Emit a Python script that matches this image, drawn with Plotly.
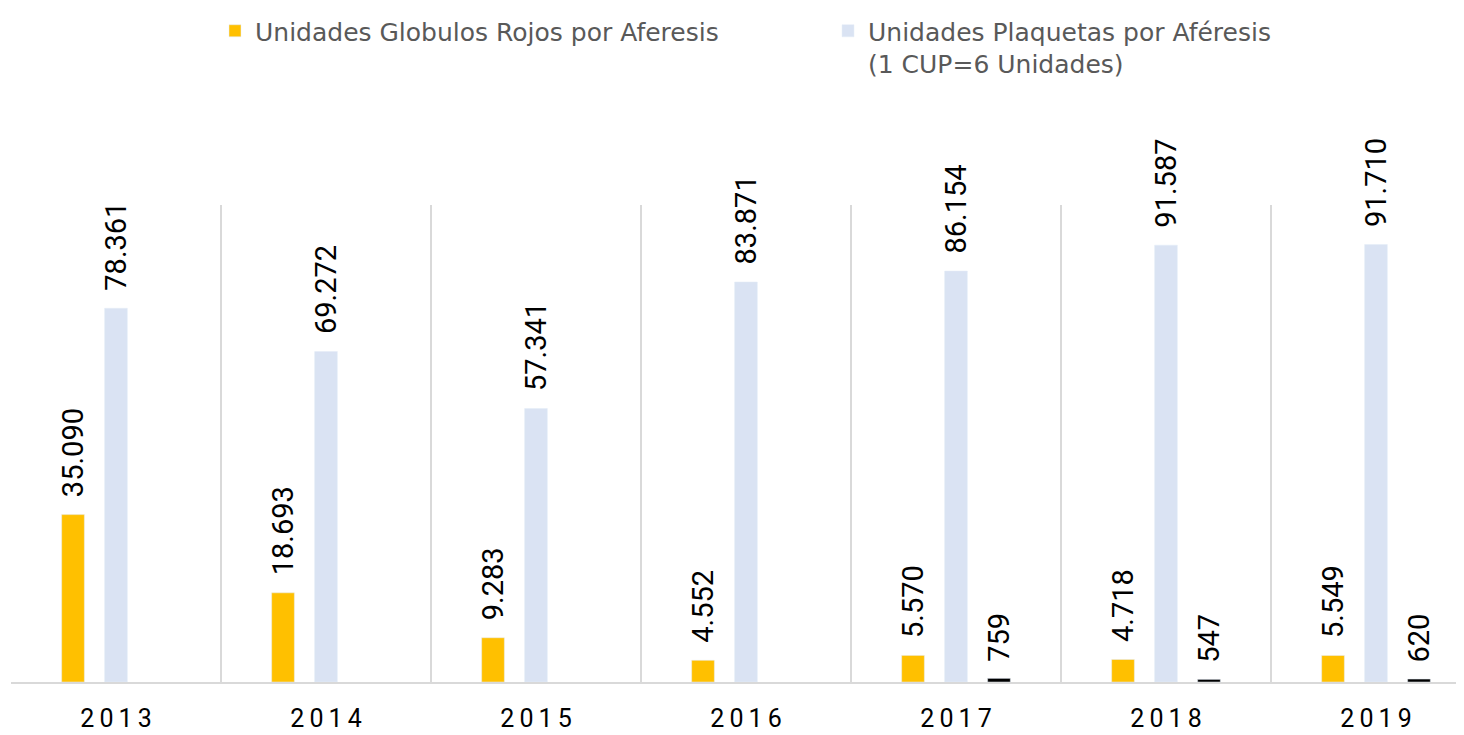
import plotly.graph_objects as go

years = ["2013", "2014", "2015", "2016", "2017", "2018", "2019"]
globulos_rojos = [35090, 18693, 9283, 4552, 5570, 4718, 5549]
plaquetas = [78361, 69272, 57341, 83871, 86154, 91587, 91710]
otros = [None, None, None, None, 759, 547, 620]

name_gr = "Unidades Globulos Rojos por Aferesis"
name_pl = "Unidades Plaquetas por Aféresis<br>(1 CUP=6 Unidades)"
name_ot = "Otros"

col_gr = "#FFC000"
col_pl = "#DAE3F3"
col_ot = "#000000"

# page is drawn with an 8px body margin -> figure coords = page coords - 8
W, H = 1464, 735
ML, MR, MT, MB = 3, 0, 197, 61
BARGAP = 0.386
BARGROUPGAP = 0.472
CAT_PX = 210.0
plot_w = W - ML - MR
plot_h = H - MT - MB
x_max = -0.5 + plot_w / CAT_PX

FONT = "Roboto"
LEG_FONT = "DejaVu Sans"


def fmt(v):
    return f"{v:,}".replace(",", ".")


fig = go.Figure()
fig.add_trace(go.Bar(x=years, y=globulos_rojos, name=name_gr, marker_color=col_gr,
                     legend="legend"))
fig.add_trace(go.Bar(x=years, y=plaquetas, name=name_pl, marker_color=col_pl,
                     legend="legend2"))
fig.add_trace(go.Bar(x=years, y=otros, name=name_ot, marker_color=col_ot,
                     showlegend=False))

slot = (1 - BARGAP) / 3
annotations = []
for si, series in enumerate([globulos_rojos, plaquetas, otros]):
    off = (si - 1) * slot
    for i, v in enumerate(series):
        if v is None:
            continue
        annotations.append(dict(
            x=i + off, y=v, xref="x", yref="y", text=fmt(v), showarrow=False,
            textangle=-90, xanchor="center", yanchor="bottom", yshift=15,
            font=dict(family=FONT, size=29, color="#000000"),
        ))

fig.update_layout(
    width=W, height=H,
    margin=dict(l=ML, r=MR, t=MT, b=MB, autoexpand=False),
    paper_bgcolor="white", plot_bgcolor="white",
    barmode="group", bargap=BARGAP, bargroupgap=BARGROUPGAP,
    annotations=annotations,
    legend=dict(xref="container", yref="container", x=207 / W, y=1.0,
                xanchor="left", yanchor="top", orientation="h", valign="top",
                font=dict(family=LEG_FONT, size=25, color="#595959"),
                bgcolor="rgba(0,0,0,0)"),
    legend2=dict(xref="container", yref="container", x=820 / W, y=1.0,
                 xanchor="left", yanchor="top", orientation="h", valign="top",
                 font=dict(family=LEG_FONT, size=25, color="#595959"),
                 bgcolor="rgba(0,0,0,0)"),
    xaxis=dict(
        type="category", range=[-0.5, x_max], tickson="boundaries",
        showgrid=True, gridcolor="#D9D9D9", gridwidth=1.5,
        showline=True, linecolor="#D9D9D9", linewidth=1.5,
        ticks="", tickvals=years, ticktext=["\u2009".join(y) for y in years],
        tickfont=dict(family=FONT, size=25, color="#000000"),
        ticklabelstandoff=13, automargin=False,
    ),
    yaxis=dict(range=[0, 100000], visible=False, showgrid=False, zeroline=False),
)

fig.write_html("out.html")
